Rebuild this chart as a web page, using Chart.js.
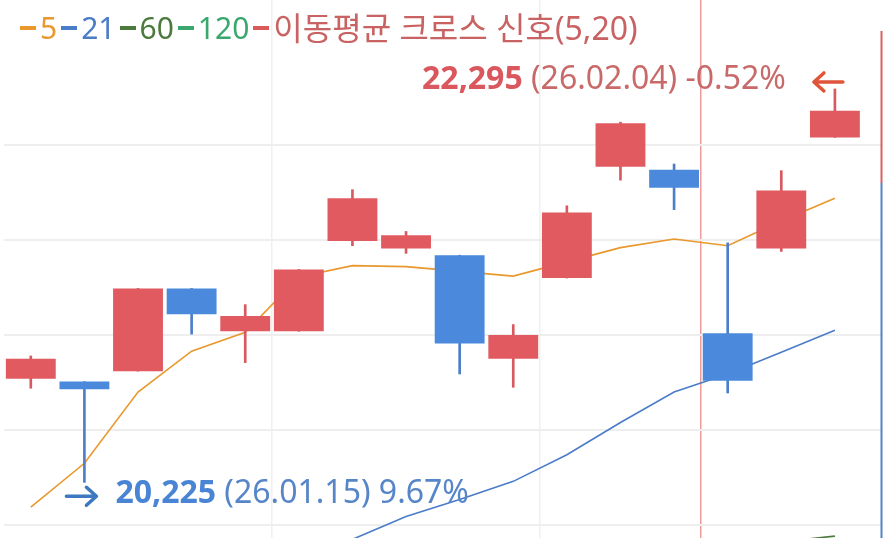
<!DOCTYPE html>
<html lang="ko">
<head>
<meta charset="utf-8">
<title>이동평균 크로스 신호</title>
<script src="https://cdn.jsdelivr.net/npm/chart.js@4.4.1/dist/chart.umd.min.js"></script>
<style>
html, body { margin: 0; padding: 0; background: #fff; }
#wrap { position: relative; width: 883px; height: 538px; overflow: hidden; }
#legend {
    position: absolute; left: 20px; top: 6px;
    font-family: "Noto Sans", "Noto Sans CJK KR", sans-serif;
    font-size: 30px; line-height: 44px; white-space: nowrap;
    display: flex; align-items: center;
}
.dash { display: inline-block; width: 16px; height: 4px; margin-right: 4px; }
.item { margin-right: 4px; }
.signal { font-size: 32px; }
</style>
</head>
<body>
<div id="wrap">
    <canvas id="chart"></canvas>
    <div id="legend"></div>
</div>
<script>
// 일자 (YY.MM.DD)
var dates = ['26.01.14', '26.01.15', '26.01.16', '26.01.19', '26.01.20', '26.01.21', '26.01.22', '26.01.23',
             '26.01.26', '26.01.27', '26.01.28', '26.01.29', '26.01.30', '26.02.02', '26.02.03', '26.02.04'];

// 시가 / 고가 / 저가 / 종가
var openP  = [20770, 20755, 20810, 21245, 21020, 21020, 21495, 21455, 21420, 20875, 21300, 21885, 21870, 21010, 21455, 22040];
var highP  = [20890, 20755, 21245, 21245, 21160, 21345, 21765, 21545, 21420, 21055, 21680, 22120, 21900, 21485, 21865, 22295];
var lowP   = [20720, 20225, 20810, 21005, 20855, 21020, 21470, 21430, 20795, 20725, 21300, 21815, 21660, 20695, 21440, 22040];
var closeP = [20875, 20715, 21245, 21110, 21100, 21345, 21720, 21525, 20955, 21000, 21645, 22115, 21775, 20760, 21760, 22180];

// 이동평균선
var ma5   = [20095, 20325, 20700, 20915, 21015, 21305, 21365, 21360, 21335, 21310, 21385, 21460, 21505, 21470, 21600, 21720];
var ma21  = [19310, 19395, 19480, 19590, 19690, 19800, 19925, 20045, 20135, 20230, 20370, 20540, 20700, 20795, 20910, 21025];
var ma60  = [19600, 19630, 19660, 19680, 19700, 19725, 19750, 19770, 19790, 19810, 19830, 19850, 19870, 19890, 19912, 19942];
var ma120 = [18900, 18920, 18945, 18965, 18985, 19005, 19030, 19050, 19070, 19090, 19110, 19130, 19150, 19170, 19190, 19210];

var maNames  = ['5', '21', '60', '120'];
var maColors = ['#e8982c', '#4a7cc8', '#4b7a3c', '#3aa86e'];
var signalName = '이동평균 크로스 신호(5,20)';
var signalColor = '#c96262';

var gridPrices = [20000, 20500, 21000, 21500, 22000];
var gridSlots = [4.5, 9.5];   // 5봉마다 세로선
var crossSlot = 12.5;         // 크로스 신호 위치

var upColor = '#e05a60', downColor = '#4a89dc';
var upWick = '#d65a5f', downWick = '#4d7ec8';

function isUp(i) { return closeP[i] >= openP[i]; }
function fmt(n) { return n.toLocaleString('en-US'); }

// 범례 (HTML)
function buildLegend() {
    var box = document.getElementById('legend');
    var html = '';
    maNames.forEach(function(name, i) {
        html += '<span class="dash" style="background:' + maColors[i] + '"></span>' +
                '<span class="item" style="color:' + maColors[i] + '">' + name + '</span>';
    });
    html += '<span class="dash" style="background:#d85a5a"></span>' +
            '<span class="item signal" style="color:' + signalColor + '">' + signalName + '</span>';
    box.innerHTML = html;
}

function drawArrow(ctx, x1, x2, y, color) {
    // x1 -> x2 방향으로 화살표
    var dir = x2 > x1 ? 1 : -1;
    ctx.save();
    ctx.strokeStyle = color;
    ctx.lineWidth = 3.5;
    ctx.lineCap = 'round';
    ctx.lineJoin = 'round';
    ctx.beginPath();
    ctx.moveTo(x1, y);
    ctx.lineTo(x2, y);
    ctx.moveTo(x2 - dir * 10, y - 9);
    ctx.lineTo(x2, y);
    ctx.lineTo(x2 - dir * 10, y + 9);
    ctx.stroke();
    ctx.restore();
}

// 최고/최저 표시 및 우측 띠
var priceMarks = {
    id: 'priceMarks',
    afterDatasetsDraw: function(chart) {
        var ctx = chart.ctx, xs = chart.scales.x, ys = chart.scales.y;
        var last = closeP[closeP.length - 1];

        // 우측 가격 띠
        var xr = chart.width - 1.5;
        var yTop = ys.getPixelForValue(22600), yMid = ys.getPixelForValue(21800);
        ctx.save();
        ctx.lineWidth = 2;
        ctx.strokeStyle = '#d86060';
        ctx.beginPath(); ctx.moveTo(xr, yTop); ctx.lineTo(xr, yMid); ctx.stroke();
        ctx.strokeStyle = '#5283c8';
        ctx.beginPath(); ctx.moveTo(xr, yMid); ctx.lineTo(xr, chart.height); ctx.stroke();
        ctx.restore();

        // 최고가
        var hi = highP.indexOf(Math.max.apply(null, highP));
        var hx = xs.getPixelForValue(hi), hy = ys.getPixelForValue(highP[hi]);
        drawArrow(ctx, hx + 8, hx - 21, hy - 7, '#e0553a');
        var hiPct = ((last - highP[hi]) / highP[hi] * 100).toFixed(2);
        var hiRest = ' (' + dates[hi] + ') ' + hiPct + '%';
        ctx.save();
        ctx.textBaseline = 'middle';
        ctx.textAlign = 'right';
        ctx.font = '400 32px "Noto Sans", sans-serif';
        ctx.fillStyle = '#c96a6a';
        var endX = hx - 49;
        ctx.fillText(hiRest, endX, hy - 9);
        var restW = ctx.measureText(hiRest).width;
        ctx.font = '700 32px "Noto Sans", sans-serif';
        ctx.fillStyle = '#d9575d';
        ctx.fillText(fmt(highP[hi]), endX - restW, hy - 9);
        ctx.restore();

        // 최저가
        var lo = lowP.indexOf(Math.min.apply(null, lowP));
        var lx = xs.getPixelForValue(lo), ly = ys.getPixelForValue(lowP[lo]);
        drawArrow(ctx, lx - 18, lx + 12, ly + 14, '#3d78c0');
        var loPct = ((last - lowP[lo]) / lowP[lo] * 100).toFixed(2);
        ctx.save();
        ctx.textBaseline = 'middle';
        ctx.textAlign = 'left';
        ctx.font = '700 32px "Noto Sans", sans-serif';
        ctx.fillStyle = '#4a84d4';
        var startX = lx + 31;
        var boldTxt = fmt(lowP[lo]);
        ctx.fillText(boldTxt, startX, ly + 12);
        var boldW = ctx.measureText(boldTxt).width;
        ctx.font = '400 32px "Noto Sans", sans-serif';
        ctx.fillStyle = '#5686c8';
        ctx.fillText(' (' + dates[lo] + ') ' + loPct + '%', startX + boldW, ly + 12);
        ctx.restore();
    }
};

function lineSet(values, color) {
    return {
        type: 'line',
        data: values.map(function(v, i) { return { x: i, y: v }; }),
        borderColor: color,
        borderWidth: 1.6,
        pointRadius: 0,
        tension: 0,
        order: 3
    };
}

var candleColors = dates.map(function(d, i) { return isUp(i) ? upColor : downColor; });
var wickColors = dates.map(function(d, i) { return isUp(i) ? upWick : downWick; });

var datasets = [
    lineSet(ma120, maColors[3]),
    lineSet(ma60, maColors[2]),
    lineSet(ma21, maColors[1]),
    lineSet(ma5, maColors[0]),
    {
        type: 'bar',
        data: dates.map(function(d, i) { return { x: i, y: [lowP[i], highP[i]] }; }),
        backgroundColor: wickColors,
        barThickness: 2,
        grouped: false,
        order: 2
    },
    {
        type: 'bar',
        data: dates.map(function(d, i) { return { x: i, y: [openP[i], closeP[i]] }; }),
        backgroundColor: candleColors,
        barPercentage: 0.93,
        categoryPercentage: 1,
        grouped: false,
        order: 1
    }
];

buildLegend();

var chart = new Chart(document.getElementById('chart').getContext('2d'), {
    type: 'bar',
    data: { datasets: datasets },
    options: {
        responsive: true,
        maintainAspectRatio: false,
        animation: false,
        layout: { padding: { left: 4, right: 2, top: 0, bottom: 0 } },
        scales: {
            x: {
                type: 'linear',
                min: -0.5,
                max: 15.86,
                offset: false,
                ticks: { display: false },
                border: { display: false },
                grid: {
                    offset: false,
                    drawTicks: false,
                    color: function(c) { return c.tick && c.tick.value === crossSlot ? '#f09a9a' : '#f0f0f0'; },
                    lineWidth: 1.5
                },
                afterBuildTicks: function(axis) {
                    axis.ticks = gridSlots.concat([crossSlot]).map(function(v) { return { value: v }; });
                }
            },
            y: {
                type: 'linear',
                min: 19932,
                max: 22763,
                beginAtZero: false,
                ticks: { display: false },
                border: { display: false },
                grid: { drawTicks: false, color: '#eeeeee', lineWidth: 2 },
                afterBuildTicks: function(axis) {
                    axis.ticks = gridPrices.map(function(v) { return { value: v }; });
                }
            }
        },
        plugins: {
            legend: { display: false },
            tooltip: { enabled: false }
        }
    },
    plugins: [priceMarks]
});
</script>
</body>
</html>
